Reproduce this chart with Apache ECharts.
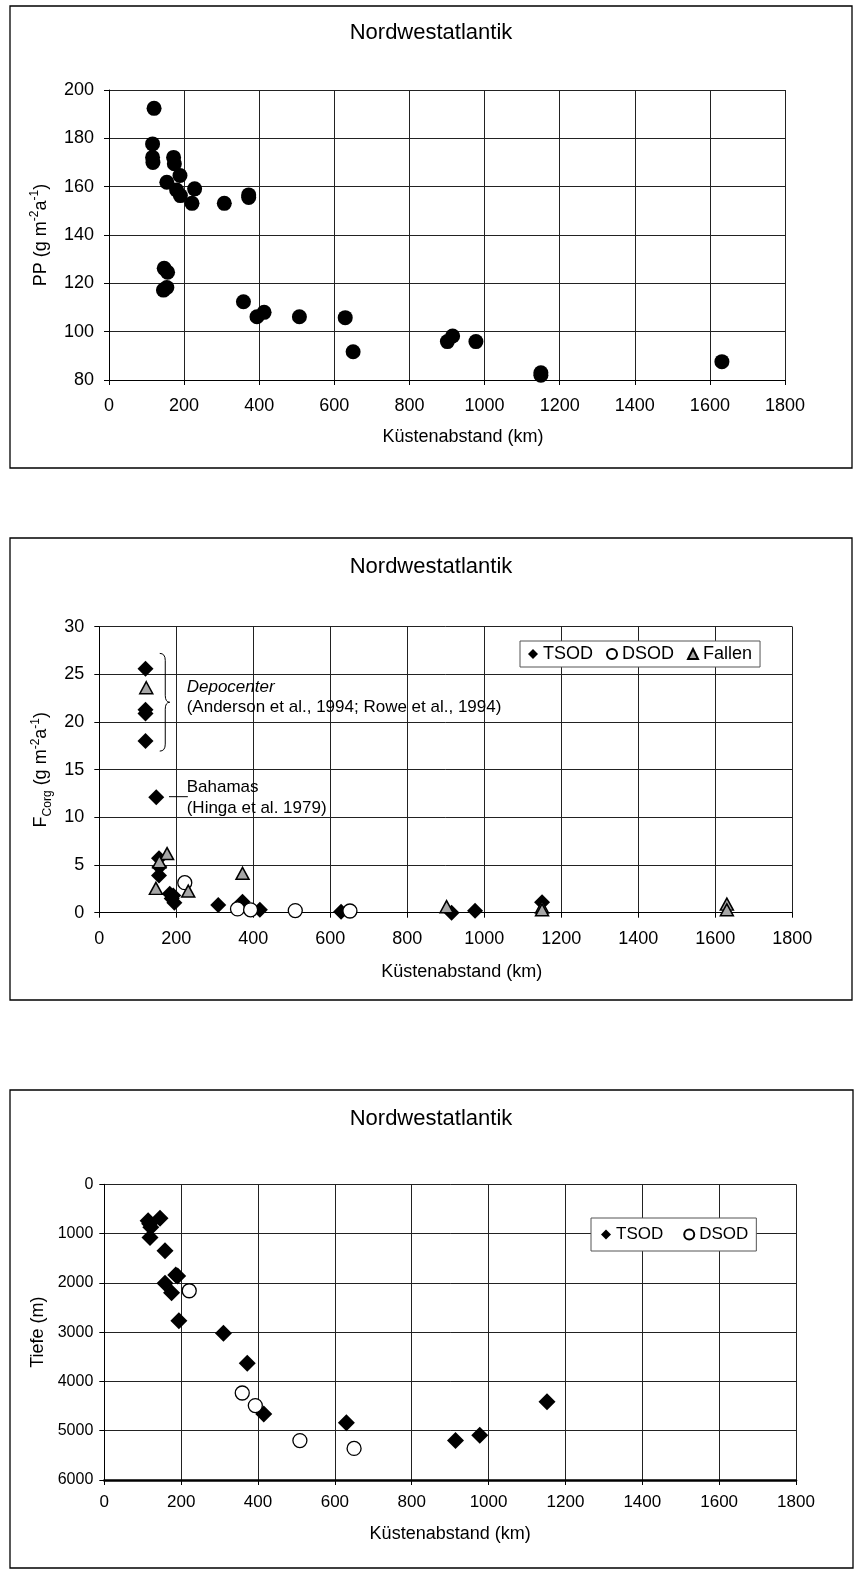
<!DOCTYPE html>
<html><head><meta charset="utf-8">
<script src="https://cdn.jsdelivr.net/npm/echarts@6/dist/echarts.min.js"></script>
<style>html,body{margin:0;padding:0;background:#fff}#c{width:854px;height:1580px}</style>
</head><body><div id="c"></div>
<script>
const FONT = '"Liberation Sans", Arial, sans-serif';

// ---------- Chart 1: Primärproduktion ----------
const ppDist  = [120, 116, 116, 117, 172, 174, 189, 154, 180, 190, 228, 221, 307, 372, 372, 147, 156, 145, 154, 358, 394, 413, 507, 629, 650, 901, 915, 977, 1150, 1150, 1632];
const ppValue = [192.4, 177.7, 172.1, 170.0, 172.1, 169.5, 164.6, 161.8, 158.6, 156.3, 159.1, 153.1, 153.1, 156.6, 155.5, 126.2, 124.6, 117.2, 118.3, 112.4, 106.2, 108.0, 106.2, 105.8, 91.7, 95.9, 98.2, 95.9, 83.0, 82.0, 87.6];

// ---------- Chart 2: Corg-Fluss ----------
const fTsodDist  = [120, 120, 120, 120, 148, 155, 156, 155, 183, 192, 188, 195, 309, 372, 417, 628, 915, 976, 1150];
const fTsodValue = [25.6, 21.3, 20.9, 18.0, 12.1, 5.7, 4.8, 3.9, 2.0, 1.8, 1.5, 1.05, 0.8, 1.15, 0.3, 0.1, 0.0, 0.2, 1.1];
const fDsodDist  = [222, 359, 393, 509, 651];
const fDsodValue = [3.15, 0.4, 0.3, 0.22, 0.18];
const fFallDist  = [122, 176, 156, 147, 231, 372, 902, 1150, 1150, 1630, 1630];
const fFallValue = [23.6, 6.2, 5.35, 2.55, 2.27, 4.13, 0.63, 0.6, 0.3, 0.9, 0.3];

// annotations (data coordinates of chart 2)
const annoText   = ['Depocenter', '(Anderson et al., 1994; Rowe et al., 1994)', 'Bahamas', '(Hinga et al. 1979)'];
const annoDist   = [227, 227, 227, 227];
const annoValue  = [23.6, 21.5, 13.2, 10.95];
const annoItalic = [1, 0, 0, 0];
const braceSpec  = [[157, 27.2, 183, 16.95]];   // x left, y top, x tip, y bottom
const leaderSpec = [[181, 12.17, 230, 12.17]];

// ---------- Chart 3: Tiefe ----------
const dTsodDist  = [114, 118, 121, 145, 119, 158, 186, 191, 158, 175, 194, 310, 372, 415, 630, 914, 977, 1152];
const dTsodDepth = [740, 800, 870, 690, 1080, 1350, 1840, 1860, 2010, 2200, 2770, 3020, 3630, 4660, 4840, 5200, 5090, 4410];
const dDsodDist  = [221, 359, 393, 509, 650];
const dDsodDepth = [2160, 4235, 4490, 5200, 5360];

const titleText = 'Nordwestatlantik';
const xName = 'Küstenabstand (km)';

const zip = (a, b) => a.map((v, i) => [v, b[i]]);
const plain = v => String(v);

function xAx(gi, labelSize, margin, nameGap, shift, lineW) {
  return {
    type: 'value', gridIndex: gi, min: 0, max: 1800, interval: 200,
    name: xName, nameLocation: 'middle', nameGap: nameGap,
    nameTextStyle: { fontSize: 18, color: '#000', fontFamily: FONT, padding: [0, 0, 0, shift] },
    axisLine: { onZero: false, lineStyle: { color: '#000', width: lineW } },
    axisTick: { show: true, length: 5, inside: false, lineStyle: { color: '#000' } },
    axisLabel: { fontSize: labelSize, color: '#000', margin: margin, fontFamily: FONT, formatter: plain },
    splitLine: { show: true, lineStyle: { color: '#222', width: 1 } }
  };
}
function yAx(gi, min, max, interval, name, nameGap, rich, labelSize, margin, inverse) {
  return {
    type: 'value', gridIndex: gi, min: min, max: max, interval: interval, inverse: !!inverse,
    name: name, nameLocation: 'middle', nameGap: nameGap, nameRotate: 90,
    nameTextStyle: { fontSize: 18, color: '#000', fontFamily: FONT, rich: rich },
    axisLine: { onZero: false, lineStyle: { color: '#000', width: 1 } },
    axisTick: { show: true, length: 5, inside: false, lineStyle: { color: '#000' } },
    axisLabel: { fontSize: labelSize, color: '#000', margin: margin, fontFamily: FONT, formatter: plain },
    splitLine: { show: true, lineStyle: { color: '#222', width: 1 } }
  };
}
const richSup = {
  n: { fontSize: 18, fontFamily: FONT, color: '#000', lineHeight: 24, verticalAlign: 'middle' },
  sup: { fontSize: 12, fontFamily: FONT, color: '#000', lineHeight: 12, verticalAlign: 'top' },
  sub: { fontSize: 12, fontFamily: FONT, color: '#000', lineHeight: 12, verticalAlign: 'bottom' }
};

const chart = echarts.init(document.getElementById('c'), null, { renderer: 'canvas' });

function frame(x, y, w, h) {
  return { type: 'rect', shape: { x: x, y: y, width: w, height: h }, style: { fill: 'none', stroke: '#000', lineWidth: 1.3 }, z: 0, silent: true };
}
function ttl(y) {
  return { type: 'text', x: 431, y: y, style: { text: titleText, font: '22px ' + FONT, fill: '#000', align: 'center', verticalAlign: 'middle', textAlign: 'center', textVerticalAlign: 'middle' }, silent: true };
}

const option = {
  animation: false,
  backgroundColor: '#fff',
  textStyle: { fontFamily: FONT },
  graphic: [
    frame(10, 6, 842, 462), frame(10, 538, 842, 462), frame(10, 1090, 843, 478),
    ttl(33), ttl(566.5), ttl(1118.5)
  ],
  grid: [
    { left: 109, top: 90, width: 676, height: 290, containLabel: false },
    { left: 99.3, top: 626.7, width: 693, height: 286, containLabel: false },
    { left: 104.3, top: 1184.3, width: 691.7, height: 295.7, containLabel: false }
  ],
  xAxis: [
    xAx(0, 18, 17, 48, 32, 1),
    xAx(1, 18, 17, 50, 32, 1),
    xAx(2, 17, 14, 45, 0, 2.5)
  ],
  yAxis: [
    yAx(0, 80, 200, 20, '{n|PP (g m}{sup|-2}{n|a}{sup|-1}{n|)}', 56, richSup, 18, 15),
    yAx(1, 0, 30, 5, '{n|F}{sub|Corg}{n| (g m}{sup|-2}{n|a}{sup|-1}{n|)}', 44, richSup, 18, 15),
    yAx(2, 0, 6000, 1000, 'Tiefe (m)', 52, null, 16, 11, true)
  ],
  legend: [
    { data: ['TSOD', 'DSOD', 'Fallen'], left: 520, top: 641, orient: 'horizontal', selectedMode: false,
      itemWidth: 10, itemHeight: 10, itemGap: 13,
      textStyle: { fontSize: 18, color: '#000', fontFamily: FONT },
      backgroundColor: '#fff', borderColor: '#555', borderWidth: 1, borderRadius: 0, padding: [4, 8, 4, 8] },
    { data: ['TSOD', 'DSOD'], left: 591, top: 1218, orient: 'horizontal', selectedMode: false,
      itemWidth: 10, itemHeight: 10, itemGap: 20,
      textStyle: { fontSize: 17, color: '#000', fontFamily: FONT },
      backgroundColor: '#fff', borderColor: '#555', borderWidth: 1, borderRadius: 0, padding: [8, 8, 8, 10] }
  ],
  series: [
    { name: 'PP', type: 'scatter', xAxisIndex: 0, yAxisIndex: 0, symbol: 'circle', symbolSize: 15,
      itemStyle: { color: '#000', opacity: 1 }, data: zip(ppDist, ppValue), silent: true },

    { name: 'TSOD', type: 'scatter', xAxisIndex: 1, yAxisIndex: 1, symbol: 'diamond', symbolSize: 16,
      itemStyle: { color: '#000', opacity: 1 }, data: zip(fTsodDist, fTsodValue), silent: true, z: 3 },
    { name: 'DSOD', type: 'scatter', xAxisIndex: 1, yAxisIndex: 1, symbol: 'circle', symbolSize: 14,
      itemStyle: { color: '#fff', borderColor: '#000', borderWidth: 1.3, opacity: 1 }, data: zip(fDsodDist, fDsodValue), silent: true, z: 4 },
    { name: 'Fallen', type: 'scatter', xAxisIndex: 1, yAxisIndex: 1, symbol: 'triangle', symbolSize: [13, 12],
      itemStyle: { color: '#a6a6a6', borderColor: '#000', borderWidth: 1.5, opacity: 1 }, data: zip(fFallDist, fFallValue), silent: true, z: 5 },

    { name: 'brace', type: 'custom', xAxisIndex: 1, yAxisIndex: 1, silent: true, clip: false,
      dimensions: ['x0', 'y0', 'x1', 'y1'], data: braceSpec,
      renderItem: function (params, api) {
        const pTop = api.coord([api.value(0), api.value(1)]);
        const pBot = api.coord([api.value(0), api.value(3)]);
        const pTip = api.coord([api.value(2), (api.value(1) + api.value(3)) / 2]);
        const xl = pTop[0], xt = pTip[0], ym = pTip[1], yt = pTop[1], yb = pBot[1];
        const xm = xl + (xt - xl) * 0.55, r = 7;
        const d = 'M' + xl + ',' + yt + ' Q' + xm + ',' + yt + ' ' + xm + ',' + (yt + r) +
          ' L' + xm + ',' + (ym - r) + ' Q' + xm + ',' + ym + ' ' + xt + ',' + ym +
          ' Q' + xm + ',' + ym + ' ' + xm + ',' + (ym + r) +
          ' L' + xm + ',' + (yb - r) + ' Q' + xm + ',' + yb + ' ' + xl + ',' + yb;
        return { type: 'path', shape: { pathData: d }, style: { fill: 'none', stroke: '#000', lineWidth: 1 } };
      } },
    { name: 'leader', type: 'custom', xAxisIndex: 1, yAxisIndex: 1, silent: true, clip: false,
      dimensions: ['x0', 'y0', 'x1', 'y1'], data: leaderSpec,
      renderItem: function (params, api) {
        const a = api.coord([api.value(0), api.value(1)]);
        const b = api.coord([api.value(2), api.value(3)]);
        return { type: 'line', shape: { x1: a[0], y1: a[1], x2: b[0], y2: b[1] }, style: { stroke: '#000', lineWidth: 1 } };
      } },
    { name: 'anno', type: 'custom', xAxisIndex: 1, yAxisIndex: 1, silent: true, clip: false, z: 6,
      dimensions: ['x', 'y', 'i'], data: annoDist.map((x, i) => [x, annoValue[i], i]),
      renderItem: function (params, api) {
        const p = api.coord([api.value(0), api.value(1)]);
        const i = api.value(2);
        return { type: 'text', x: p[0], y: p[1],
          style: { text: annoText[i], font: (annoItalic[i] ? 'italic ' : '') + '17px ' + FONT, fill: '#000',
            align: 'left', verticalAlign: 'middle', textAlign: 'left', textVerticalAlign: 'middle' } };
      } },

    { name: 'TSOD', type: 'scatter', xAxisIndex: 2, yAxisIndex: 2, symbol: 'diamond', symbolSize: 17,
      itemStyle: { color: '#000', opacity: 1 }, data: zip(dTsodDist, dTsodDepth), silent: true },
    { name: 'DSOD', type: 'scatter', xAxisIndex: 2, yAxisIndex: 2, symbol: 'circle', symbolSize: 14,
      itemStyle: { color: '#fff', borderColor: '#000', borderWidth: 1.3, opacity: 1 }, data: zip(dDsodDist, dDsodDepth), silent: true }
  ]
};
chart.setOption(option);
</script>
</body></html>
